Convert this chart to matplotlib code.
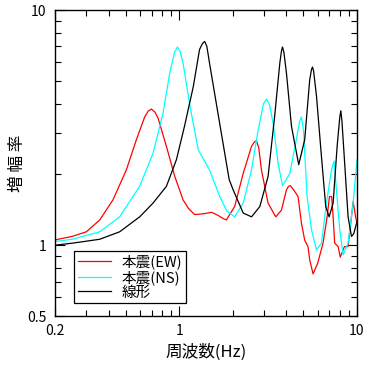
import matplotlib
matplotlib.use('Agg')
import matplotlib.pyplot as plt
from matplotlib.ticker import FixedLocator, NullFormatter

plt.rcParams['font.family'] = ['Noto Sans CJK JP', 'DejaVu Sans']

# 本震(EW)
ew_f = [0.2, 0.25, 0.30, 0.357, 0.424, 0.504, 0.574, 0.640, 0.67, 0.697, 0.73, 0.760,
        0.847, 0.944, 1.05, 1.13, 1.22, 1.37, 1.52, 1.65, 1.76, 1.84, 2.05, 2.29, 2.55,
        2.65, 2.72, 2.80, 2.90, 3.16, 3.49, 3.76, 4.01, 4.12, 4.22, 4.40, 4.66, 4.87,
        5.08, 5.30, 5.42, 5.66, 6.01, 6.44, 6.79, 7.0, 7.2, 7.34, 7.49, 7.83, 8.05, 8.5,
        8.9, 9.31, 9.51, 9.82, 10.0]
ew_a = [1.053, 1.09, 1.14, 1.28, 1.56, 2.09, 2.81, 3.52, 3.72, 3.79, 3.68, 3.47,
        2.63, 1.96, 1.56, 1.43, 1.35, 1.36, 1.38, 1.34, 1.30, 1.28, 1.46, 2.02, 2.63,
        2.75, 2.78, 2.60, 2.09, 1.51, 1.32, 1.41, 1.72, 1.78, 1.79, 1.72, 1.61, 1.24,
        1.05, 0.986, 0.866, 0.755, 0.838, 1.02, 1.32, 1.61, 1.61, 1.32, 1.02, 0.986,
        0.89, 0.986, 0.986, 1.32, 1.53, 1.32, 1.24]

# 本震(NS)
ns_f = [0.2, 0.25, 0.30, 0.357, 0.462, 0.599, 0.712, 0.811, 0.884, 0.94, 0.977, 1.01,
        1.05, 1.15, 1.28, 1.48, 1.69, 1.85, 2.05, 2.29, 2.55, 2.78, 2.98, 3.10, 3.22,
        3.37, 3.60, 3.81, 4.19, 4.52, 4.75, 4.87, 5.0, 5.24, 5.55, 5.92, 6.31, 6.73,
        7.18, 7.43, 7.66, 8.0, 8.36, 8.91, 9.51, 10.0]
ns_a = [1.036, 1.06, 1.10, 1.14, 1.32, 1.78, 2.46, 3.65, 5.39, 6.60, 6.96, 6.70,
        5.95, 3.89, 2.54, 2.09, 1.61, 1.40, 1.32, 1.51, 2.09, 3.09, 4.00, 4.18, 3.95,
        3.31, 2.23, 1.79, 2.02, 2.72, 3.35, 3.51, 3.09, 1.61, 1.16, 0.955, 1.02, 1.51,
        2.09, 2.28, 1.72, 1.16, 0.91, 1.02, 1.51, 2.31]

# 線形
li_f = [0.2, 0.25, 0.30, 0.357, 0.462, 0.599, 0.712, 0.847, 0.964, 1.07, 1.20, 1.30,
        1.35, 1.39, 1.43, 1.48, 1.65, 1.91, 2.01, 2.29, 2.55, 2.84, 3.16, 3.44, 3.68,
        3.76, 3.81, 3.88, 4.01, 4.28, 4.70, 5.08, 5.42, 5.55, 5.62, 5.70, 5.92, 6.31,
        6.67, 6.97, 7.34, 7.73, 8.0, 8.11, 8.22, 8.43, 8.91, 9.31, 9.59, 10.0]
li_a = [1.0, 1.02, 1.04, 1.06, 1.14, 1.32, 1.51, 1.78, 2.31, 3.2, 4.73, 6.78,
        7.20, 7.35, 7.00, 5.95, 3.65, 1.90, 1.72, 1.37, 1.32, 1.46, 1.96, 3.52, 5.95,
        6.70, 6.96, 6.60, 5.39, 3.2, 2.20, 2.81, 5.05, 5.60, 5.72, 5.50, 4.29, 2.38,
        1.46, 1.32, 1.51, 2.63, 3.50, 3.73, 3.40, 2.54, 1.32, 1.09, 1.12, 1.26]

fig = plt.figure(figsize=(3.72, 3.68), dpi=100)
ax = fig.add_axes([55 / 372, 1 - 316 / 368, 302 / 372, 306 / 368])

ax.plot(ew_f, ew_a, color='red', lw=0.9, label='本震(EW)')
ax.plot(ns_f, ns_a, color='cyan', lw=0.9, label='本震(NS)')
ax.plot(li_f, li_a, color='black', lw=0.9, label='線形')

ax.set_xscale('log')
ax.set_yscale('log')
ax.set_xlim(0.2, 10)
ax.set_ylim(0.5, 10)

ax.xaxis.set_major_locator(FixedLocator([0.2, 1, 10]))
ax.xaxis.set_minor_locator(FixedLocator([0.3, 0.4, 0.5, 0.6, 0.7, 0.8, 0.9,
                                         2, 3, 4, 5, 6, 7, 8, 9]))
ax.set_xticklabels(['0.2', '1', '10'])
ax.xaxis.set_minor_formatter(NullFormatter())
ax.yaxis.set_major_locator(FixedLocator([0.5, 1, 10]))
ax.yaxis.set_minor_locator(FixedLocator([0.6, 0.7, 0.8, 0.9, 2, 3, 4, 5, 6, 7, 8, 9]))
ax.set_yticklabels(['0.5', '1', '10'])
ax.yaxis.set_minor_formatter(NullFormatter())

ax.tick_params(which='both', direction='in', top=True, right=True, width=0.8,
               labelsize=10, pad=6)
ax.tick_params(which='major', length=7)
ax.tick_params(which='minor', length=4)
for s in ax.spines.values():
    s.set_linewidth(1.0)

ax.set_xlabel('周波数(Hz)', fontsize=12, labelpad=4)
ax.set_ylabel('増 幅 率', fontsize=12, labelpad=1)

leg = ax.legend(loc='lower left', bbox_to_anchor=(0.063, 0.042), borderaxespad=0,
                fontsize=10.5, frameon=True, fancybox=False, edgecolor='black',
                framealpha=1, handlelength=2.3, handletextpad=0.7, borderpad=0.25,
                labelspacing=0.05)
leg.get_frame().set_linewidth(0.9)

fig.savefig('out.png', dpi=100)
